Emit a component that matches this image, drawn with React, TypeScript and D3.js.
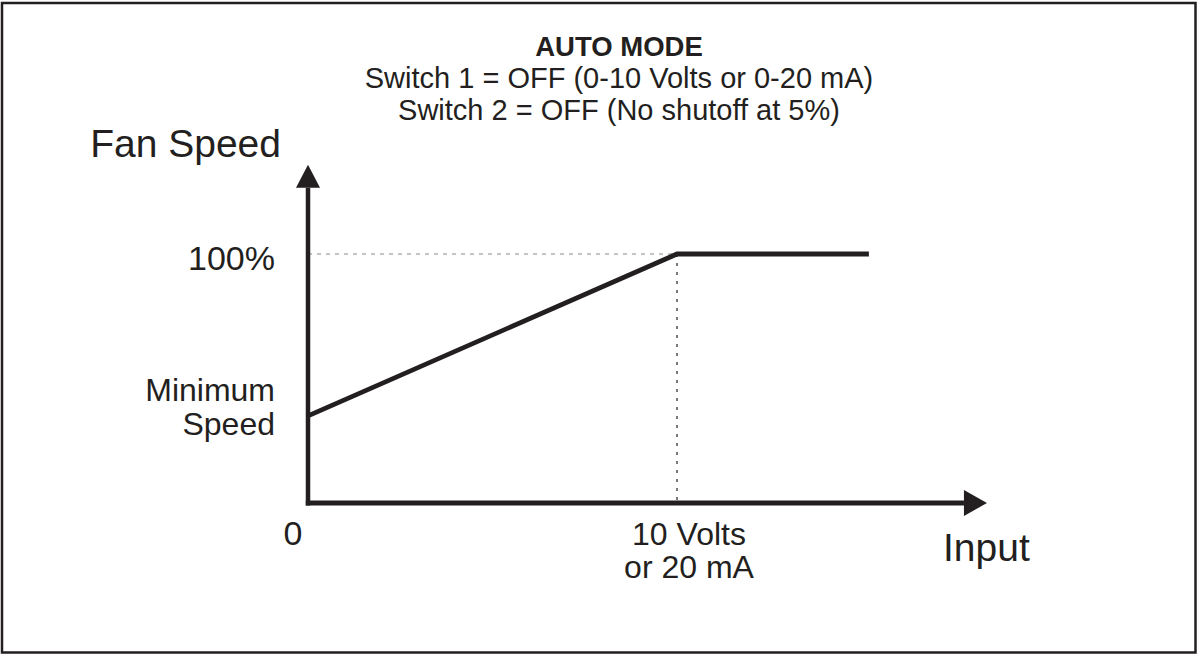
import React from "react";
import * as d3 from "d3";

// transfer curve: input (volts) -> fan speed (%)
const inputValues = [0, 10, 15.2];
const speedValues = [35, 100, 100];

const titleLines = ["AUTO MODE", "Switch 1 = OFF (0-10 Volts or 0-20 mA)", "Switch 2 = OFF (No shutoff at 5%)"];
const yTicks = [
  { value: 100, lines: ["100%"] },
  { value: 35, lines: ["Minimum", "Speed"] },
];
const xTicks = [
  { value: 0, lines: ["0"] },
  { value: 10, lines: ["10 Volts", "or 20 mA"] },
];
const yAxisTitle = "Fan Speed";
const xAxisTitle = "Input";
// axis arrow extents, in data units
const xAxisMax = 18.4;
const yAxisMax = 135.8;

const INK = "#231f20";
const FONT = "'Liberation Sans', Arial, Helvetica, sans-serif";

export default function App() {
  const W = 1197, H = 654;
  const x = d3.scaleLinear().domain([0, 10]).range([308, 677]);
  const y = d3.scaleLinear().domain([0, 100]).range([503, 254]);

  const pts = inputValues.map((v, i) => [v, speedValues[i]] as [number, number]);
  const line = d3.line<[number, number]>().x((d) => x(d[0])).y((d) => y(d[1]));

  const x0 = x(0), y0 = y(0);
  const yTop = y(yAxisMax), xEnd = x(xAxisMax);
  const head = 23, half = 12;

  return (
    <svg width={W} height={H} viewBox={`0 0 ${W} ${H}`} style={{ position: "absolute", left: 0, top: 0, display: "block", background: "#fff" }} fontFamily={FONT}>
      <rect x={2} y={3} width={1193.5} height={649.5} fill="#fff" stroke={INK} strokeWidth={2.5} />

      {/* title */}
      {titleLines.map((t, i) => (
        <text key={t} x={619} y={56 + i * 32} textAnchor="middle" fontSize={i === 0 ? 27.5 : 29} fontWeight={i === 0 ? "bold" : "normal"} fill={INK}>{t}</text>
      ))}

      {/* reference guides */}
      <line x1={x0} x2={x(10)} y1={y(100)} y2={y(100)} stroke="#8a8a8a" strokeWidth={1.2} strokeDasharray="4 5" />
      <line x1={x(10)} x2={x(10)} y1={y(100)} y2={y0} stroke={INK} strokeWidth={1.2} strokeDasharray="3 6" />

      {/* axes with arrow heads */}
      <line x1={x0} x2={x0} y1={y0 + 2.5} y2={yTop + head} stroke={INK} strokeWidth={4.5} />
      <path d={`M${x0 - half},${yTop + head} L${x0},${yTop} L${x0 + half},${yTop + head} Z`} fill={INK} />
      <line x1={x0 - 2.2} x2={xEnd - head} y1={y0} y2={y0} stroke={INK} strokeWidth={5} />
      <path d={`M${xEnd - head},${y0 - 13} L${xEnd},${y0} L${xEnd - head},${y0 + 13} Z`} fill={INK} />

      {/* curve */}
      <path d={line(pts) ?? ""} fill="none" stroke={INK} strokeWidth={4.8} strokeLinejoin="miter" />

      {/* y tick labels */}
      {yTicks.map((t) =>
        t.lines.map((s, j) => (
          <text key={s} x={275} y={t.lines.length === 1 ? y(t.value) + 16 : y(t.value) - 15 + j * 34} textAnchor="end" fontSize={t.lines.length === 1 ? 34 : 32} fill={INK}>{s}</text>
        ))
      )}

      {/* x tick labels */}
      {xTicks.map((t) =>
        t.lines.map((s, j) => (
          <text key={s} x={t.value === 0 ? x(t.value) - 15 : x(t.value) + 12} y={545 + j * 33} textAnchor="middle" fontSize={t.lines.length === 1 ? 34 : 32} fill={INK}>{s}</text>
        ))
      )}

      {/* axis titles */}
      <text x={281} y={157} textAnchor="end" fontSize={39} fill={INK}>{yAxisTitle}</text>
      <text x={943} y={561} fontSize={39} fill={INK}>{xAxisTitle}</text>
    </svg>
  );
}
